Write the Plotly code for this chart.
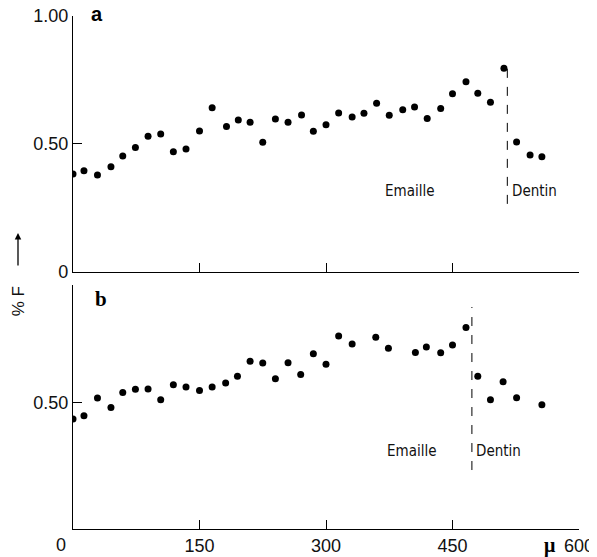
import plotly.graph_objects as go

# ---- data ----
depth_a = [0, 13, 29, 45, 59, 74, 89, 104, 119, 134, 150, 165, 182, 196, 210, 225, 240, 255, 271,
           285, 300, 315, 331, 345, 360, 375, 391, 405, 420, 436, 450, 466, 480, 495, 511, 526, 542, 556]
fluor_a = [0.383, 0.395, 0.379, 0.411, 0.453, 0.486, 0.530, 0.539, 0.470, 0.480, 0.551, 0.642, 0.568,
           0.594, 0.585, 0.507, 0.598, 0.585, 0.613, 0.550, 0.575, 0.621, 0.605, 0.620, 0.659, 0.612,
           0.634, 0.645, 0.600, 0.639, 0.696, 0.743, 0.698, 0.663, 0.796, 0.508, 0.457, 0.450]

depth_b = [0, 13, 29, 45, 59, 74, 89, 104, 119, 134, 150, 165, 181, 195, 210, 225, 240, 255, 270,
           285, 300, 315, 331, 359, 374, 406, 419, 436, 450, 466, 480, 495, 510, 526, 556]
fluor_b = [0.435, 0.447, 0.518, 0.480, 0.539, 0.552, 0.553, 0.511, 0.570, 0.561, 0.547, 0.561, 0.577,
           0.604, 0.663, 0.656, 0.594, 0.657, 0.610, 0.692, 0.651, 0.763, 0.731, 0.758, 0.714, 0.697,
           0.719, 0.696, 0.727, 0.796, 0.604, 0.511, 0.582, 0.519, 0.491]

boundary_a = [515, 515]
boundary_a_y = [0.266, 0.800]
boundary_b = [473, 473]
boundary_b_y = [0.233, 0.877]

x_ticks = [150, 300, 450, 600]
x_ticktext = ["150", "300", "450", "600"]

FONT = "Liberation Sans Narrow, DejaVu Sans Condensed, Liberation Sans, Arial, sans-serif"
TICKFONT = dict(family="Liberation Sans, Arial, sans-serif", size=18, color="#111")

fig = go.Figure()
fig.add_trace(go.Scatter(x=depth_a, y=fluor_a, mode="markers", xaxis="x", yaxis="y",
                         marker=dict(color="black", size=7), showlegend=False))
fig.add_trace(go.Scatter(x=depth_b, y=fluor_b, mode="markers", xaxis="x2", yaxis="y2",
                         marker=dict(color="black", size=7), showlegend=False))
fig.add_trace(go.Scatter(x=boundary_a, y=boundary_a_y, mode="lines", xaxis="x", yaxis="y",
                         line=dict(color="black", width=1, dash="dash"), showlegend=False))
fig.add_trace(go.Scatter(x=boundary_b, y=boundary_b_y, mode="lines", xaxis="x2", yaxis="y2",
                         line=dict(color="black", width=1, dash="dash"), showlegend=False))

axis_common = dict(showline=True, linecolor="black", linewidth=1.3, showgrid=False,
                   zeroline=False, ticks="inside", ticklen=9, tickwidth=1.2,
                   tickcolor="black", tickfont=TICKFONT, automargin=False,
                   ticklabeloverflow="allow")

# the page body adds an 8 px offset, so the figure is 8 px smaller on each axis
fig.update_layout(
    width=589, height=549,
    margin=dict(l=65, r=18, t=8, b=28),
    paper_bgcolor="white", plot_bgcolor="white",
    xaxis=dict(axis_common, domain=[0, 1], range=[0, 600], anchor="y",
               tickvals=x_ticks, showticklabels=False),
    yaxis=dict(axis_common, domain=[0.501, 1.0], range=[0, 1.0], anchor="x",
               tickvals=[0, 0.5, 1.0], ticktext=["0", "0.50", "1.00"]),
    xaxis2=dict(axis_common, domain=[0, 1], range=[0, 600], anchor="y2",
                tickvals=x_ticks, ticktext=x_ticktext),
    yaxis2=dict(axis_common, domain=[0, 0.4756], range=[0, 0.964], anchor="x2",
                tickvals=[0.5], ticktext=["0.50"]),
)

ann = []
lab = dict(family=FONT, size=15, color="#111")
ann.append(dict(x=400, y=0.316, xref="x", yref="y", text="Emaille", showarrow=False, font=lab))
ann.append(dict(x=547, y=0.316, xref="x", yref="y", text="Dentin", showarrow=False, font=lab))
ann.append(dict(x=402, y=0.308, xref="x2", yref="y2", text="Emaille", showarrow=False, font=lab))
ann.append(dict(x=504, y=0.308, xref="x2", yref="y2", text="Dentin", showarrow=False, font=lab))
# panel letters
ann.append(dict(x=0, y=1.0, xref="x", yref="y", text="<b>a</b>", showarrow=False, xanchor="left",
                yanchor="middle", xshift=16, yshift=2,
                font=dict(family="Liberation Sans, Arial, sans-serif", size=20, color="black")))
ann.append(dict(x=0, y=0.964, xref="x2", yref="y2", text="<b>b</b>", showarrow=False, xanchor="left",
                yanchor="top", xshift=20, yshift=0,
                font=dict(family="Liberation Serif, Times New Roman, serif", size=21, color="black")))
# x-axis zero and unit
ann.append(dict(x=0, y=0, xref="x2", yref="y2", text="0", showarrow=False, yanchor="top",
                xanchor="center", xshift=-12, yshift=-4, font=TICKFONT))
ann.append(dict(x=600, y=0, xref="x2", yref="y2", text="<b>μ</b>", showarrow=False, yanchor="top",
                xanchor="center", xshift=-29, yshift=-3,
                font=dict(family="Liberation Serif, Times New Roman, serif", size=20, color="black")))
# y label with arrow
ann.append(dict(x=-0.1087, y=0.444, xref="paper", yref="paper", text="% F", textangle=-90,
                xanchor="center", yanchor="middle", showarrow=False,
                font=dict(family="Liberation Sans, Arial, sans-serif", size=17, color="#111")))
ann.append(dict(x=-0.1087, y=0.577, xref="paper", yref="paper", text="", showarrow=True,
                xanchor="center", ax=0, ay=34, arrowhead=2, arrowsize=1, arrowwidth=1.3,
                arrowcolor="black"))
fig.update_layout(annotations=ann)

fig.write_html("out.html")
